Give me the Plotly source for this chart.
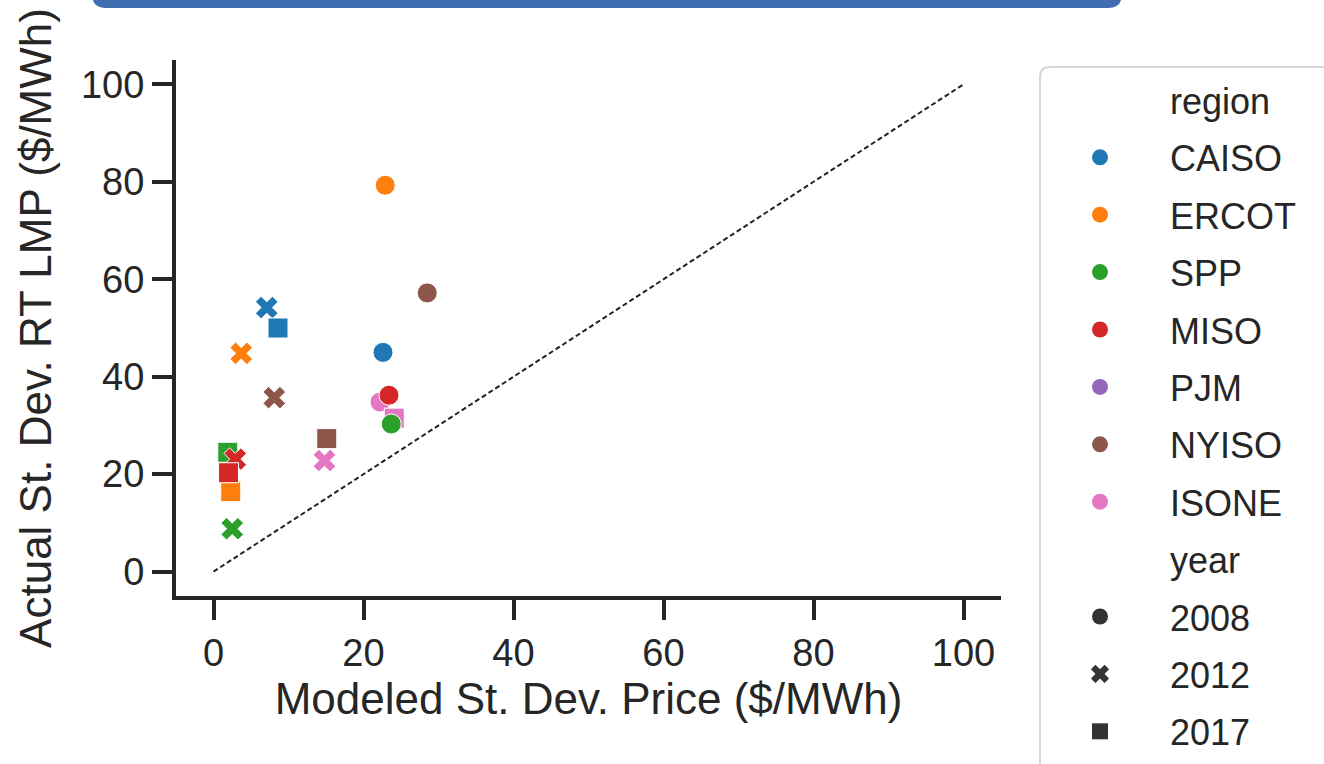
import plotly.graph_objects as go

# ---- data ----
regions = ["CAISO", "ERCOT", "SPP", "MISO", "PJM", "NYISO", "ISONE"]
years = ["2008", "2012", "2017"]

caiso_x = [22.6, 7.1, 8.6]
caiso_y = [45.0, 54.2, 50.0]
ercot_x = [22.9, 3.7, 2.3]
ercot_y = [79.3, 44.8, 16.4]
spp_x = [23.7, 2.5, 1.9]
spp_y = [30.3, 8.8, 24.5]
miso_x = [23.4, 2.9, 2.0]
miso_y = [36.2, 23.1, 20.3]
pjm_x = []
pjm_y = []
nyiso_x = [28.5, 8.1, 15.1]
nyiso_y = [57.2, 35.7, 27.3]
isone_x = [22.2, 14.8, 24.1]
isone_y = [34.8, 22.8, 31.5]

diag_x = [0, 100]
diag_y = [0, 100]

x_ticks = [0, 20, 40, 60, 80, 100]
y_ticks = [0, 20, 40, 60, 80, 100]

# ---- styling ----
colors = {
    "CAISO": "#1f77b4", "ERCOT": "#ff7f0e", "SPP": "#2ca02c", "MISO": "#d62728",
    "PJM": "#9467bd", "NYISO": "#8c564b", "ISONE": "#e377c2",
}
symbols = {"2008": "circle", "2012": "x", "2017": "square"}
data = {
    "CAISO": (caiso_x, caiso_y), "ERCOT": (ercot_x, ercot_y), "SPP": (spp_x, spp_y),
    "MISO": (miso_x, miso_y), "PJM": (pjm_x, pjm_y), "NYISO": (nyiso_x, nyiso_y),
    "ISONE": (isone_x, isone_y),
}
draw_order = ["ISONE", "CAISO", "ERCOT", "SPP", "MISO", "PJM", "NYISO"]

TXT = "#262626"
FONT = "Liberation Sans, Arial, sans-serif"
PAD = "\u00a0" * 5

fig = go.Figure()

# reference diagonal
fig.add_trace(go.Scatter(x=diag_x, y=diag_y, mode="lines", showlegend=False,
                         line=dict(color="#222222", width=2, dash="5px,3px"),
                         hoverinfo="skip"))

# data points
for r in draw_order:
    xs, ys = data[r]
    if not xs:
        continue
    fig.add_trace(go.Scatter(
        x=xs, y=ys, mode="markers", showlegend=False, name=r,
        marker=dict(color=colors[r], size=20,
                    symbol=[symbols[y] for y in years[:len(xs)]],
                    line=dict(color="white", width=1)),
    ))

# legend entries
def legend_entry(name, color, symbol, group):
    fig.add_trace(go.Scatter(
        x=[None], y=[None], mode="markers", name=PAD + name, legendgroup=group,
        marker=dict(color=color, size=18, symbol=symbol, line=dict(width=0)),
    ))

legend_entry("region", "rgba(0,0,0,0)", "circle", "g_region")
for r in regions:
    legend_entry(r, colors[r], "circle", "g_" + r)
legend_entry("year", "rgba(0,0,0,0)", "circle", "g_year")
for y in years:
    legend_entry(y, "#333333", symbols[y], "g_" + y)

L, R, T, B = 176, 323, 60, 168
PW, PH = 1324 - L - R, 764 - T - B

def px_x(p):
    return (p - L) / PW

def px_y(p):
    return (764 - B - p) / PH

# blue banner at top
x0, x1 = px_x(92), px_x(1122)
yb, yt = px_y(8), px_y(-20)
rx, ry = 14 / PW, 14 / PH
banner = (f"M {x0},{yt} L {x0},{yb + ry} Q {x0},{yb} {x0 + rx},{yb} "
          f"L {x1 - rx},{yb} Q {x1},{yb} {x1},{yb + ry} L {x1},{yt} Z")
fig.add_shape(type="path", path=banner, xref="paper", yref="paper",
              fillcolor="#3f6db0", line=dict(width=0), layer="above")

# legend frame
lx0, lx1 = px_x(1040), px_x(1340)
ly_top, ly_bot = px_y(67), px_y(790)
lr_x, lr_y = 10 / PW, 10 / PH
frame = (f"M {lx1},{ly_top} L {lx0 + lr_x},{ly_top} Q {lx0},{ly_top} {lx0},{ly_top - lr_y} "
         f"L {lx0},{ly_bot}")
fig.add_shape(type="path", path=frame, xref="paper", yref="paper",
              line=dict(color="#d6d6d6", width=2), layer="above")

fig.update_layout(
    width=1324, height=764,
    margin=dict(l=L, r=R, t=T, b=B, autoexpand=False),
    paper_bgcolor="white", plot_bgcolor="white",
    font=dict(family=FONT, color=TXT, size=38),
    showlegend=True,
    legend=dict(
        x=px_x(1080), xanchor="left", y=px_y(70), yanchor="top",
        font=dict(family=FONT, size=36, color=TXT),
        bgcolor="rgba(0,0,0,0)", borderwidth=0,
        tracegroupgap=7.6, itemsizing="trace", maxheight=3000,
    ),
    xaxis=dict(
        range=[-5, 105], tickvals=x_ticks, ticktext=[str(v) for v in x_ticks],
        showgrid=False, zeroline=False, showline=True, linecolor=TXT, linewidth=4,
        ticks="outside", ticklen=20, tickwidth=4, tickcolor=TXT,
        tickfont=dict(size=38, color=TXT, family=FONT),
        title=dict(text="Modeled St. Dev. Price ($/MWh)", font=dict(size=44, color=TXT, family=FONT),
                   standoff=8),
    ),
    yaxis=dict(
        range=[-5, 105], tickvals=y_ticks, ticktext=[str(v) for v in y_ticks],
        showgrid=False, zeroline=False, showline=True, linecolor=TXT, linewidth=4,
        ticks="outside", ticklen=20, tickwidth=4, tickcolor=TXT,
        tickfont=dict(size=38, color=TXT, family=FONT),
        title=dict(text="Actual St. Dev. RT LMP ($/MWh)", font=dict(size=44, color=TXT, family=FONT),
                   standoff=17),
    ),
)

fig.write_html("out.html", config={"displayModeBar": False},
               post_script="document.body.style.margin='0';")
